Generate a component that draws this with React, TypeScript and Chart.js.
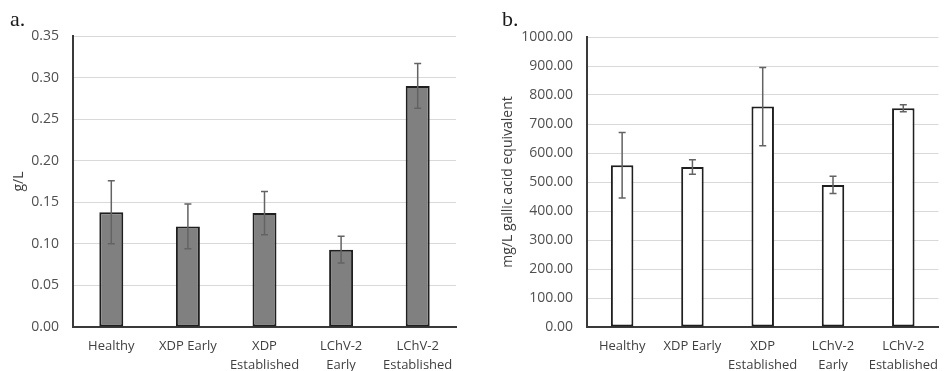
import React, { useEffect, useRef } from "react";
import { Chart, registerables } from "chart.js";

Chart.register(...registerables);

const categories: (string | string[])[] = [
  "Healthy",
  "XDP Early",
  ["XDP", "Established"],
  ["LChV-2", "Early"],
  ["LChV-2", "Established"],
];

const valuesA = [0.138, 0.121, 0.137, 0.093, 0.29];
const errorsA = [0.038, 0.027, 0.026, 0.016, 0.027];
const valuesB = [558, 552, 760, 490, 754];
const errorsB = [113, 25, 135, 30, 12];

const ticksA = { min: 0, max: 0.35, step: 0.05, decimals: 2 };
const ticksB = { min: 0, max: 1000, step: 100, decimals: 2 };

const FONT = "'Open Sans', 'Liberation Sans', sans-serif";

const errorBarPlugin = {
  id: "errorBars",
  afterDatasetsDraw(chart: any, _args: any, opts: any) {
    const errs: number[] = opts.errors || [];
    const meta = chart.getDatasetMeta(0);
    const yScale = chart.scales.y;
    const vals = chart.data.datasets[0].data as number[];
    const ctx = chart.ctx;
    ctx.save();
    ctx.strokeStyle = opts.color || "#6b6b6b";
    ctx.lineWidth = opts.width || 1.5;
    const cap = opts.cap || 7;
    meta.data.forEach((bar: any, i: number) => {
      const v = vals[i];
      const e = errs[i] || 0;
      const x = bar.x;
      const yTop = yScale.getPixelForValue(v + e);
      const yBot = yScale.getPixelForValue(v - e);
      ctx.beginPath();
      ctx.moveTo(x, yTop);
      ctx.lineTo(x, yBot);
      ctx.moveTo(x - cap / 2, yTop);
      ctx.lineTo(x + cap / 2, yTop);
      ctx.moveTo(x - cap / 2, yBot);
      ctx.lineTo(x + cap / 2, yBot);
      ctx.stroke();
    });
    ctx.restore();
  },
};

type PanelProps = {
  values: number[];
  errors: number[];
  ticks: { min: number; max: number; step: number; decimals: number };
  fill: string;
  yTitle: string;
  yWidth: number;
  titlePad: number;
  padRight: number;
  padTop: number;
  barPct: number;
  width: number;
  height: number;
};

function Panel(p: PanelProps) {
  const ref = useRef<HTMLCanvasElement | null>(null);
  useEffect(() => {
    if (!ref.current) return;
    const chart = new Chart(ref.current, {
      type: "bar",
      data: {
        labels: categories,
        datasets: [
          {
            data: p.values,
            backgroundColor: p.fill,
            borderColor: "#1f1f1f",
            borderWidth: 2,
            borderSkipped: false,
            barPercentage: p.barPct,
            categoryPercentage: 1,
          },
        ],
      },
      options: {
        animation: false,
        responsive: false,
        maintainAspectRatio: false,
        layout: { padding: { left: 0, right: p.padRight, top: p.padTop, bottom: 0 } },
        plugins: {
          legend: { display: false },
          tooltip: { enabled: false },
          errorBars: { errors: p.errors, color: "#636363", width: 1.5, cap: 7 },
        } as any,
        scales: {
          x: {
            offset: true,
            grid: { display: false, drawTicks: false },
            border: { display: true, color: "#3a3a3a", width: 2 },
            ticks: {
              color: "#404040",
              padding: 10,
              maxRotation: 0,
              autoSkip: false,
              font: { family: FONT, size: 13, lineHeight: 1.45 },
            },
            afterFit: (s: any) => {
              s.height = 44;
            },
          },
          y: {
            min: p.ticks.min,
            max: p.ticks.max,
            grid: { color: "#d9d9d9", lineWidth: 1, drawTicks: false },
            border: { display: true, color: "#3a3a3a", width: 2 },
            ticks: {
              stepSize: p.ticks.step,
              color: "#505050",
              padding: 14,
              font: { family: FONT, size: 14 },
              callback: (v: any) => Number(v).toFixed(p.ticks.decimals),
            },
            title: {
              display: true,
              text: p.yTitle,
              color: "#404040",
              font: { family: FONT, size: 14 },
              padding: { top: p.titlePad, bottom: 0 },
            },
            afterFit: (s: any) => {
              s.width = p.yWidth;
            },
          },
        },
      },
      plugins: [errorBarPlugin],
    });
    return () => chart.destroy();
  }, []);
  return <canvas ref={ref} width={p.width} height={p.height} style={{ display: "block" }} />;
}

const labelStyle: React.CSSProperties = {
  position: "absolute",
  fontFamily: "'Liberation Serif', 'DejaVu Serif', serif",
  fontSize: 22,
  color: "#1a1a1a",
  lineHeight: "22px",
};

export default function App() {
  return (
    <div style={{ position: "absolute", left: 0, top: 0, width: 948, height: 371, background: "#fff", overflow: "hidden" }}>
      <div style={{ position: "absolute", left: 0, top: 0 }}>
        <Panel
          values={valuesA}
          errors={errorsA}
          ticks={ticksA}
          fill="#808080"
          yTitle="g/L"
          yWidth={73}
          titlePad={11}
          padRight={14}
          padTop={36}
          barPct={0.313}
          width={470}
          height={371}
        />
      </div>
      <div style={{ position: "absolute", left: 470, top: 0 }}>
        <Panel
          values={valuesB}
          errors={errorsB}
          ticks={ticksB}
          fill="#ffffff"
          yTitle="mg/L gallic acid equivalent"
          yWidth={117}
          titlePad={30}
          padRight={1}
          padTop={37}
          barPct={0.32}
          width={478}
          height={371}
        />
      </div>
      <div style={{ ...labelStyle, left: 10, top: 8 }}>a.</div>
      <div style={{ ...labelStyle, left: 502, top: 8 }}>b.</div>
    </div>
  );
}
